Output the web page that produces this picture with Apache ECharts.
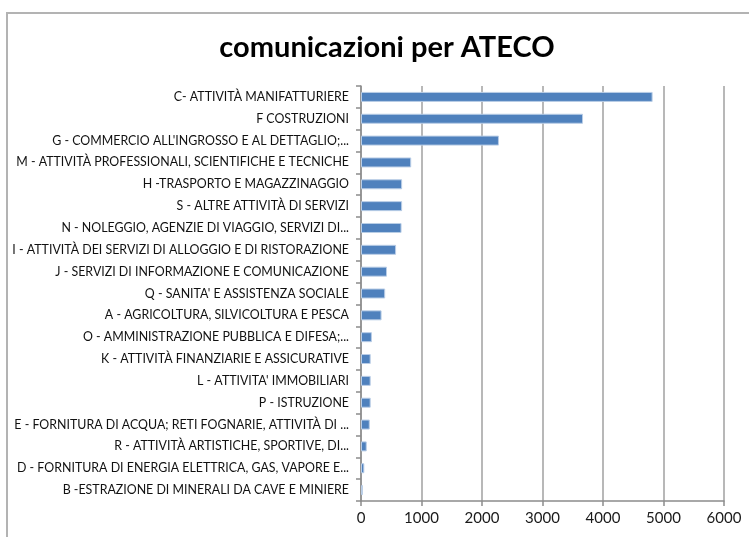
<!DOCTYPE html>
<html>
<head>
<meta charset="utf-8">
<script src="https://cdn.jsdelivr.net/npm/echarts@6/dist/echarts.min.js"></script>
<style>
  html, body { margin: 0; padding: 0; background: #ffffff; }
  #chart { width: 749px; height: 537px; }
</style>
</head>
<body>
<div id="chart"></div>
<script>
// Sectors (ATECO), listed top to bottom
const categories = [
  "C- ATTIVITÀ MANIFATTURIERE",
  "F COSTRUZIONI",
  "G - COMMERCIO ALL'INGROSSO E AL DETTAGLIO;...",
  "M - ATTIVITÀ PROFESSIONALI, SCIENTIFICHE E TECNICHE",
  "H -TRASPORTO E MAGAZZINAGGIO",
  "S - ALTRE ATTIVITÀ DI SERVIZI",
  "N - NOLEGGIO, AGENZIE DI VIAGGIO, SERVIZI DI...",
  "I - ATTIVITÀ DEI SERVIZI DI ALLOGGIO E DI RISTORAZIONE",
  "J - SERVIZI DI INFORMAZIONE E COMUNICAZIONE",
  "Q - SANITA' E ASSISTENZA SOCIALE",
  "A - AGRICOLTURA, SILVICOLTURA E PESCA",
  "O - AMMINISTRAZIONE PUBBLICA E DIFESA;...",
  "K - ATTIVITÀ FINANZIARIE E ASSICURATIVE",
  "L - ATTIVITA' IMMOBILIARI",
  "P - ISTRUZIONE",
  "E - FORNITURA DI ACQUA; RETI FOGNARIE, ATTIVITÀ DI ...",
  "R - ATTIVITÀ ARTISTICHE, SPORTIVE, DI...",
  "D - FORNITURA DI ENERGIA ELETTRICA, GAS, VAPORE E...",
  "B -ESTRAZIONE DI MINERALI DA CAVE E MINIERE"
];

// Number of communications per sector
const comunicazioni = [
  4820, 3670, 2280, 830, 680, 680, 670, 580, 430, 400,
  340, 180, 160, 160, 160, 145, 95, 55, 30
];

// Value axis range
const xMin = 0;
const xMax = 6000;
const xStep = 1000;

const chart = echarts.init(document.getElementById('chart'), null, { renderer: 'canvas' });

chart.setOption({
  animation: false,
  backgroundColor: '#ffffff',
  title: {
    text: 'comunicazioni per ATECO',
    left: 382,
    top: 28,
    textAlign: 'center',
    textStyle: {
      fontFamily: 'Lato',
      fontWeight: 'bold',
      fontSize: 29,
      color: '#000000'
    }
  },
  graphic: [
    {
      type: 'rect',
      shape: { x: 7, y: 13, width: 760, height: 560 },
      style: { fill: 'none', stroke: '#b3b3b3', lineWidth: 2 },
      silent: true,
      z: -1
    }
  ],
  grid: {
    left: 361,
    right: 25,
    top: 86,
    bottom: 36,
    containLabel: false,
    outerBoundsMode: 'none'
  },
  xAxis: {
    type: 'value',
    min: xMin,
    max: xMax,
    interval: xStep,
    axisLine: { show: true, lineStyle: { color: '#8c8c8c', width: 1.5 } },
    axisTick: { show: true, length: 5, lineStyle: { color: '#8c8c8c', width: 1.5 } },
    splitLine: { show: true, lineStyle: { color: '#a0a0a0', width: 1.5 } },
    axisLabel: {
      fontFamily: 'Lato',
      fontSize: 15,
      color: '#1a1a1a',
      margin: 10,
      formatter: v => String(v)
    }
  },
  yAxis: {
    type: 'category',
    data: categories,
    inverse: true,
    axisLine: { show: true, lineStyle: { color: '#8c8c8c', width: 1.5 } },
    axisTick: { show: true, length: 5, lineStyle: { color: '#8c8c8c', width: 1.5 } },
    axisLabel: {
      fontFamily: 'Lato',
      fontSize: 12.4,
      color: '#111111',
      margin: 12
    }
  },
  series: [
    {
      type: 'bar',
      data: comunicazioni,
      barWidth: 10,
      itemStyle: {
        color: '#4f81bd',
        borderColor: '#b9cde6',
        borderWidth: 1
      }
    }
  ]
});
</script>
</body>
</html>
